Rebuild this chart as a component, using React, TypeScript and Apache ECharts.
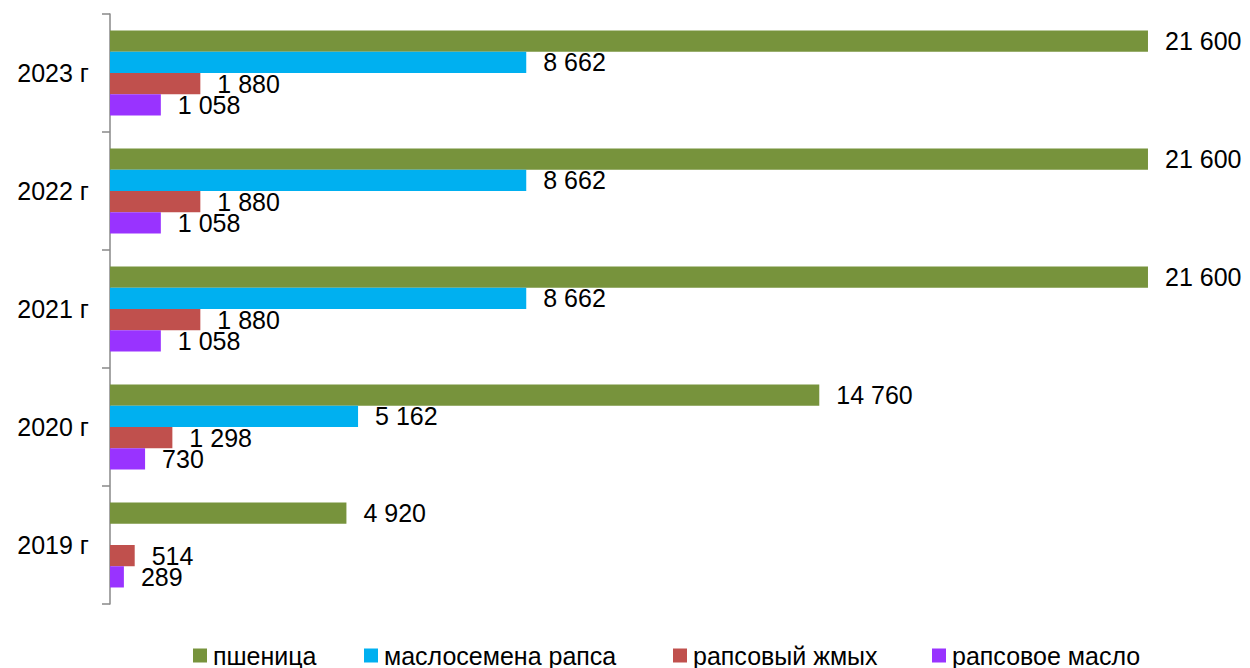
import React, { useEffect, useRef } from "react";
import * as echarts from "echarts";

const categories = ["2019 г", "2020 г", "2021 г", "2022 г", "2023 г"];
const seriesNames = ["пшеница", "маслосемена рапса", "рапсовый жмых", "рапсовое масло"];
const wheat = [4920, 14760, 21600, 21600, 21600];
const rapeseed = [null, 5162, 8662, 8662, 8662];
const rapeMeal = [514, 1298, 1880, 1880, 1880];
const rapeOil = [289, 730, 1058, 1058, 1058];
const colors = ["#77933C", "#00B0F0", "#C0504D", "#9933FF"];
const legendLefts = [193, 364, 673, 932];

const fmt = (v: number) => String(v).replace(/\B(?=(\d{3})+(?!\d))/g, " ");

export default function App() {
  const ref = useRef<HTMLDivElement>(null);
  useEffect(() => {
    if (!ref.current) return;
    const chart = echarts.init(ref.current, null, { renderer: "svg" });
    const datas = [wheat, rapeseed, rapeMeal, rapeOil];
    const font = "'Liberation Sans', Arial, sans-serif";
    const fs = 25;
    chart.setOption({
      animation: false,
      textStyle: { fontFamily: font },
      grid: { left: 110, top: 14, bottom: 64, width: 1057.2, containLabel: false },
      legend: seriesNames.map((name, i) => ({
        left: legendLefts[i],
        top: 643,
        padding: 0,
        itemWidth: 14,
        itemHeight: 14,
        icon: "rect",
        data: [name],
        textStyle: { fontSize: fs, color: "#000", fontFamily: font, padding: [0, 0, 0, 1] },
      })),
      xAxis: {
        type: "value",
        min: 0,
        max: 22000,
        show: false,
        splitLine: { show: false },
      },
      yAxis: {
        type: "category",
        data: categories,
        axisLine: { show: true, lineStyle: { color: "#898989", width: 1.5 } },
        axisTick: { show: true, length: 8, lineStyle: { color: "#898989", width: 1.5 } },
        axisLabel: { fontSize: fs, color: "#000", margin: 21, fontFamily: font },
      },
      series: seriesNames.map((name, i) => ({
        name,
        type: "bar",
        data: datas[i],
        barGap: "0%",
        barCategoryGap: "28%",
        itemStyle: { color: colors[i] },
        label: {
          show: true,
          position: "right",
          distance: 17,
          fontSize: fs,
          color: "#000",
          fontFamily: font,
          formatter: (p: any) => (p.value == null ? "" : fmt(p.value)),
        },
      })),
    });
    return () => chart.dispose();
  }, []);
  return (
    <div
      ref={ref}
      style={{ position: "fixed", left: 0, top: 0, width: 1250, height: 668, background: "#fff" }}
    />
  );
}
